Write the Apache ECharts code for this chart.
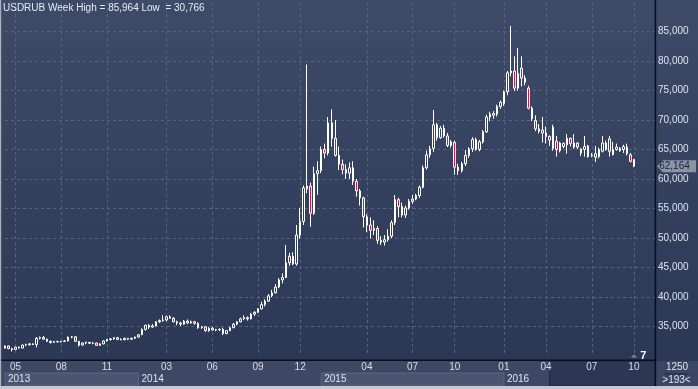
<!DOCTYPE html>
<html><head><meta charset="utf-8">
<script src="https://cdn.jsdelivr.net/npm/echarts@6/dist/echarts.min.js"></script>
<style>html,body{margin:0;padding:0;background:#2e3a58;}#c{width:698px;height:389px;}</style>
</head><body><div id="c"></div>
<script>
const symbolName = 'USDRUB';
const periodName = 'Week';
const highText = '85,964';
const lowText = '30,766';
const lastText = '62,164';
const lastClose = 62.164;
const totalSlots = 186;

const opens = [31.35,31.70,31.25,31.10,31.50,31.35,31.85,31.90,32.05,31.95,33.00,33.15,32.85,32.50,32.30,32.45,32.40,32.50,32.55,33.20,
33.25,32.50,31.85,32.20,32.30,32.15,32.20,31.80,32.05,32.55,32.80,32.90,33.10,32.80,32.75,33.00,32.85,33.00,33.20,33.60,
34.50,35.20,34.90,35.10,35.80,36.00,36.10,36.65,36.40,35.80,35.60,35.40,35.90,35.60,35.80,35.55,34.80,34.95,34.30,34.70,
34.40,34.45,34.50,33.80,34.30,34.80,35.40,35.80,36.30,36.50,36.30,37.10,37.40,38.00,38.70,39.30,40.20,40.70,41.70,42.90,
43.30,45.80,46.90,45.60,50.50,52.80,58.30,58.80,54.20,60.90,61.40,65.00,64.40,69.50,66.90,64.00,62.50,61.60,61.00,61.90,
59.60,58.00,56.80,53.60,52.20,51.30,51.60,49.60,49.30,49.70,50.30,52.60,56.50,55.30,53.90,55.10,56.20,56.60,57.20,58.60,
61.90,64.10,65.20,69.20,67.00,68.60,67.30,65.70,66.20,62.00,61.40,62.60,64.00,65.10,66.70,65.00,66.30,68.00,70.50,70.80,
71.00,72.30,72.80,74.80,78.00,78.30,75.40,78.80,77.10,75.40,72.00,69.90,68.50,67.80,67.80,66.60,65.20,66.40,64.80,65.50,
65.80,66.90,65.40,66.10,64.40,65.00,65.60,63.90,64.30,63.80,64.70,66.10,64.70,65.00,65.00,64.80,65.00,65.40,64.10,63.30];
const highs = [31.80,31.75,31.40,31.55,31.60,31.95,32.10,32.20,32.15,33.20,33.30,33.40,32.95,32.60,32.55,32.60,32.55,32.70,33.30,33.40,
33.35,32.55,32.30,32.45,32.40,32.35,32.25,32.15,32.65,32.90,33.00,33.20,33.25,33.00,33.10,33.05,33.10,33.30,33.70,34.70,
35.30,35.40,35.40,35.90,36.20,36.90,36.80,36.90,36.60,36.00,35.80,36.10,36.20,36.00,35.95,35.70,35.10,35.00,34.90,34.95,
34.60,34.70,34.80,34.40,34.95,35.60,35.90,36.50,36.90,36.70,37.30,37.60,38.10,39.20,39.60,40.50,41.20,42.20,43.20,44.00,
48.80,47.50,47.60,52.20,55.10,58.90,79.40,59.40,62.10,63.00,65.50,66.00,70.50,71.80,70.00,65.50,63.30,62.50,62.80,63.00,
60.00,58.30,57.00,54.00,53.50,53.00,52.00,50.30,50.50,51.50,53.00,57.30,56.80,56.00,55.50,56.60,57.30,57.50,58.90,62.30,
64.80,65.60,71.70,69.50,69.00,69.20,67.80,66.60,66.50,62.60,62.90,64.90,65.40,67.10,67.00,66.60,68.30,70.90,71.40,71.50,
72.60,73.30,75.00,78.30,85.964,80.80,82.20,80.80,77.60,75.80,72.30,70.80,69.30,70.50,68.90,67.40,69.20,67.30,66.30,66.20,
67.60,67.00,67.60,66.20,65.20,67.30,65.80,64.40,65.60,65.30,67.30,66.50,67.30,66.30,66.00,65.40,65.80,66.00,64.40,63.40];
const lows = [31.25,31.15,30.766,31.05,31.25,31.30,31.70,31.80,31.85,31.45,32.80,32.75,32.40,32.10,32.20,32.30,32.25,32.40,32.50,33.00,
32.40,31.60,31.75,32.00,32.05,32.00,31.70,31.75,32.00,32.45,32.60,32.75,32.70,32.65,32.70,32.70,32.75,32.90,33.10,33.55,
34.30,34.60,34.80,35.00,35.60,35.80,35.90,36.30,35.70,35.20,35.10,35.30,35.40,35.50,35.30,34.60,34.60,34.10,34.10,34.30,
34.20,34.25,33.55,33.70,34.20,34.70,35.20,35.70,36.10,36.00,36.20,36.80,37.30,37.90,38.40,39.20,40.00,40.60,41.50,42.30,
43.20,45.30,45.40,45.30,49.90,52.20,57.60,51.90,53.90,57.30,61.00,63.50,64.00,65.50,63.80,61.50,60.80,60.00,60.00,59.00,
57.00,55.50,51.80,51.00,49.90,50.50,49.00,48.80,48.70,49.40,50.00,52.20,53.50,53.50,53.40,54.80,55.80,56.40,56.80,58.40,
61.60,63.60,64.60,66.50,66.80,67.00,65.40,65.30,60.70,60.70,61.10,62.20,63.60,64.60,64.80,64.70,66.00,67.80,69.80,70.20,
70.60,71.90,72.40,74.20,77.40,74.90,75.00,75.70,75.90,71.80,69.80,68.10,67.70,66.20,66.00,65.60,64.80,63.80,64.50,65.20,
64.30,65.50,65.10,65.10,63.90,63.80,63.60,63.70,62.90,63.50,64.50,64.80,63.80,64.00,64.80,64.60,64.40,64.00,62.80,62.00];
const closes = [31.70,31.25,31.10,31.50,31.35,31.85,31.90,32.05,31.95,33.00,33.15,32.85,32.50,32.30,32.45,32.40,32.50,32.55,33.20,33.25,
32.50,31.85,32.20,32.30,32.15,32.20,31.80,32.05,32.55,32.80,32.90,33.10,32.80,32.75,33.00,32.85,33.00,33.20,33.60,34.50,
35.20,34.90,35.10,35.80,36.00,36.10,36.65,36.40,35.80,35.60,35.40,35.90,35.60,35.80,35.55,34.80,34.95,34.30,34.70,34.40,
34.45,34.50,33.80,34.30,34.80,35.40,35.80,36.30,36.50,36.30,37.10,37.40,38.00,38.70,39.30,40.20,40.70,41.70,42.90,43.30,
45.80,46.90,45.60,50.50,52.80,58.50,58.80,54.20,60.90,61.40,65.00,64.40,69.50,66.90,64.00,62.50,61.60,61.00,61.90,59.60,
58.00,56.80,53.60,52.20,51.30,51.60,49.60,49.30,49.70,50.30,52.60,56.50,55.30,53.90,55.10,56.20,56.60,57.20,58.60,61.90,
64.10,65.10,69.20,67.00,68.60,67.30,65.70,66.30,62.00,61.40,62.60,64.00,65.10,66.70,65.00,66.30,68.00,70.50,71.00,71.10,
72.30,73.00,74.80,78.00,78.30,75.40,77.90,77.10,76.40,72.00,70.20,68.50,68.10,68.30,67.20,67.20,68.80,65.00,66.10,66.00,
66.90,66.00,66.10,65.40,65.10,65.50,63.80,64.00,63.70,65.00,66.10,65.00,66.80,64.10,65.40,65.20,65.50,64.30,63.00,62.164];

const monthTickIdx = [3,16,29,46,59,72,84,103,116,128,142,154,167,179];
const monthTickLbl = ['05','08','11','03','06','09','12','04','07','10','01','04','07','10'];
const yearTickIdx = [0,38,90,142];
const yearTickLbl = ['2013','2014','2015','2016'];
const lightYearIdx = [[0,38],[90,142]];
const navStartIdx = 155;
const yMin = 30, yMax = 90, yStep = 5;

const cats = [];
const d0 = Date.UTC(2013,3,22);
for (let i = 0; i < totalSlots; i++) cats.push(new Date(d0 + i*7*86400000).toISOString().slice(0,10));
const candles = opens.map((o,i)=>[o, closes[i], lows[i], highs[i]]);

const monthMap = {}; monthTickIdx.forEach((k,j)=>monthMap[k]=monthTickLbl[j]);
const yearMap = {}; yearTickIdx.forEach((k,j)=>yearMap[k]=yearTickLbl[j]);
const FONT = 'Arial, "Liberation Sans", sans-serif';

const chart = echarts.init(document.getElementById('c'), null, {renderer:'canvas'});
chart.setOption({
  animation:false,
  backgroundColor: new echarts.graphic.LinearGradient(0,0,0,1,[{offset:0,color:'#3e4b68'},{offset:1,color:'#293654'}]),
  title:{text: symbolName+' '+periodName+' High = '+highText+' Low  = '+lowText, left:3, top:3, padding:0,
    textStyle:{color:'#e6ebf4', fontSize:10, fontWeight:'normal', fontFamily:FONT}},
  grid:[
    {left:5, right:43, top:2, bottom:33},
    {left:5, right:43, top:373, height:13},
    {left:5, right:43, top:361, height:25}
  ],
  xAxis:[
    {type:'category', data:cats, boundaryGap:false, gridIndex:0, z:2,
     axisLine:{show:false}, axisTick:{show:false},
     axisLabel:{interval:(i)=>monthMap[i]!==undefined, formatter:(v,i)=>monthMap[i]||'', margin:11.5, verticalAlign:'middle',
       fontSize:10, fontFamily:FONT, color:(v,i)=> i>navStartIdx+2 ? '#8993a8' : '#d6deec'},
     splitLine:{show:true, interval:(i)=>monthMap[i]!==undefined, lineStyle:{color:'#56637f', type:[3,3], width:1}}},
    {type:'category', data:cats, boundaryGap:false, gridIndex:1, z:2,
     axisLine:{show:false}, axisTick:{show:false},
     axisLabel:{inside:true, interval:(i)=>yearMap[i]!==undefined, formatter:(v,i)=>yearMap[i]||'', margin:6.5, verticalAlign:'middle', align:'left',
       padding:[0,0,0,3], fontSize:10, fontFamily:FONT, color:'#dfe5f0'},
     splitLine:{show:false}},
    {type:'category', data:cats, boundaryGap:false, gridIndex:2, show:false}
  ],
  yAxis:[
    {type:'value', position:'right', min:yMin, max:yMax, interval:yStep, gridIndex:0, z:2,
     axisLine:{show:false}, axisTick:{show:false},
     axisLabel:{margin:3, fontSize:10, fontFamily:FONT, color:'#dbe4f3',
       formatter:(v)=> (v<=yMin||v>=yMax) ? '' : (v*1000).toLocaleString('en-US')},
     splitLine:{show:true, showMinLine:false, showMaxLine:false, lineStyle:{color:'#56637f', type:[3,3], width:1}}},
    {type:'value', min:0, max:1, gridIndex:1, show:false},
    {type:'value', min:0, max:1, gridIndex:2, show:false}
  ],
  series:[
    {type:'line', xAxisIndex:1, yAxisIndex:1, data:[], z:1, silent:true,
     markArea:{silent:true, itemStyle:{color:'#4a5570', borderColor:'#5a6681', borderWidth:1},
       data: lightYearIdx.map(p=>[{xAxis:cats[p[0]]},{xAxis:cats[p[1]]}])}},
    {type:'line', xAxisIndex:2, yAxisIndex:2, data:[], z:1, silent:true,
     markArea:{silent:true, itemStyle:{color:'#2c3753', borderColor:'#1f2840', borderWidth:1},
       data:[[{xAxis:cats[navStartIdx]},{xAxis:cats[totalSlots-1]}]]}},
    {type:'candlestick', xAxisIndex:0, yAxisIndex:0, data:candles, barWidth:2, clip:false, z:3,
     itemStyle:{color:'rgba(0,0,0,0)', color0:'#e3123c', borderColor:'#ffffff', borderColor0:'#ffffff', borderWidth:1},
     markPoint:{silent:true, animation:false,
       data:[{coord:[cats[totalSlots-1], lastClose], symbol:'path://M0,6L6,0L40,0L40,12L6,12Z', symbolSize:[39,12], symbolOffset:[21.5,0],
         symbolKeepAspect:false, itemStyle:{color:'#8b94a4'},
         label:{show:true, position:'inside', formatter:lastText, color:'#18203a', fontSize:10, fontFamily:FONT, offset:[-2,0]}}]}}
  ],
  graphic:[
    {type:'rect', z:0, silent:true, shape:{x:0,y:361,width:655,height:25}, style:{fill:'#3c4864'}},
    {type:'rect', z:0, silent:true, shape:{x:656,y:361,width:42,height:25}, style:{fill:'#3a4664'}},
    {type:'rect', z:20, silent:true, shape:{x:0,y:359.5,width:655,height:1.6}, style:{fill:'#0a0f1c'}},
    {type:'rect', z:20, silent:true, shape:{x:654.6,y:0,width:1.6,height:386}, style:{fill:'#0a0f1c'}},
    {type:'rect', z:20, silent:true, shape:{x:0,y:0,width:1.2,height:389}, style:{fill:'#a9b0be'}},
    {type:'rect', z:20, silent:true, shape:{x:0,y:386,width:698,height:3}, style:{fill:'#c5c9d1'}},
    {type:'text', z:20, silent:true, style:{x:677,y:367.5,text:'1250',fill:'#dfe5ef',font:'10px '+FONT,textAlign:'center',textVerticalAlign:'middle'}},
    {type:'rect', z:20, silent:true, shape:{x:665,y:373.5,width:24,height:1}, style:{fill:'#1c2438'}},
    {type:'text', z:20, silent:true, style:{x:676.5,y:380.5,text:'>193<',fill:'#dfe5ef',font:'10px '+FONT,textAlign:'center',textVerticalAlign:'middle'}},
    {type:'text', z:20, silent:true, style:{x:643.3,y:355.5,text:'7',fill:'#ffffff',font:'bold 11px '+FONT,textAlign:'center',textVerticalAlign:'middle'}},
    {type:'polygon', z:20, silent:true, shape:{points:[[630.7,357.5],[637.3,357.5],[634,354.5]]}, style:{fill:'#7b8598'}}
  ]
});
</script></body></html>
